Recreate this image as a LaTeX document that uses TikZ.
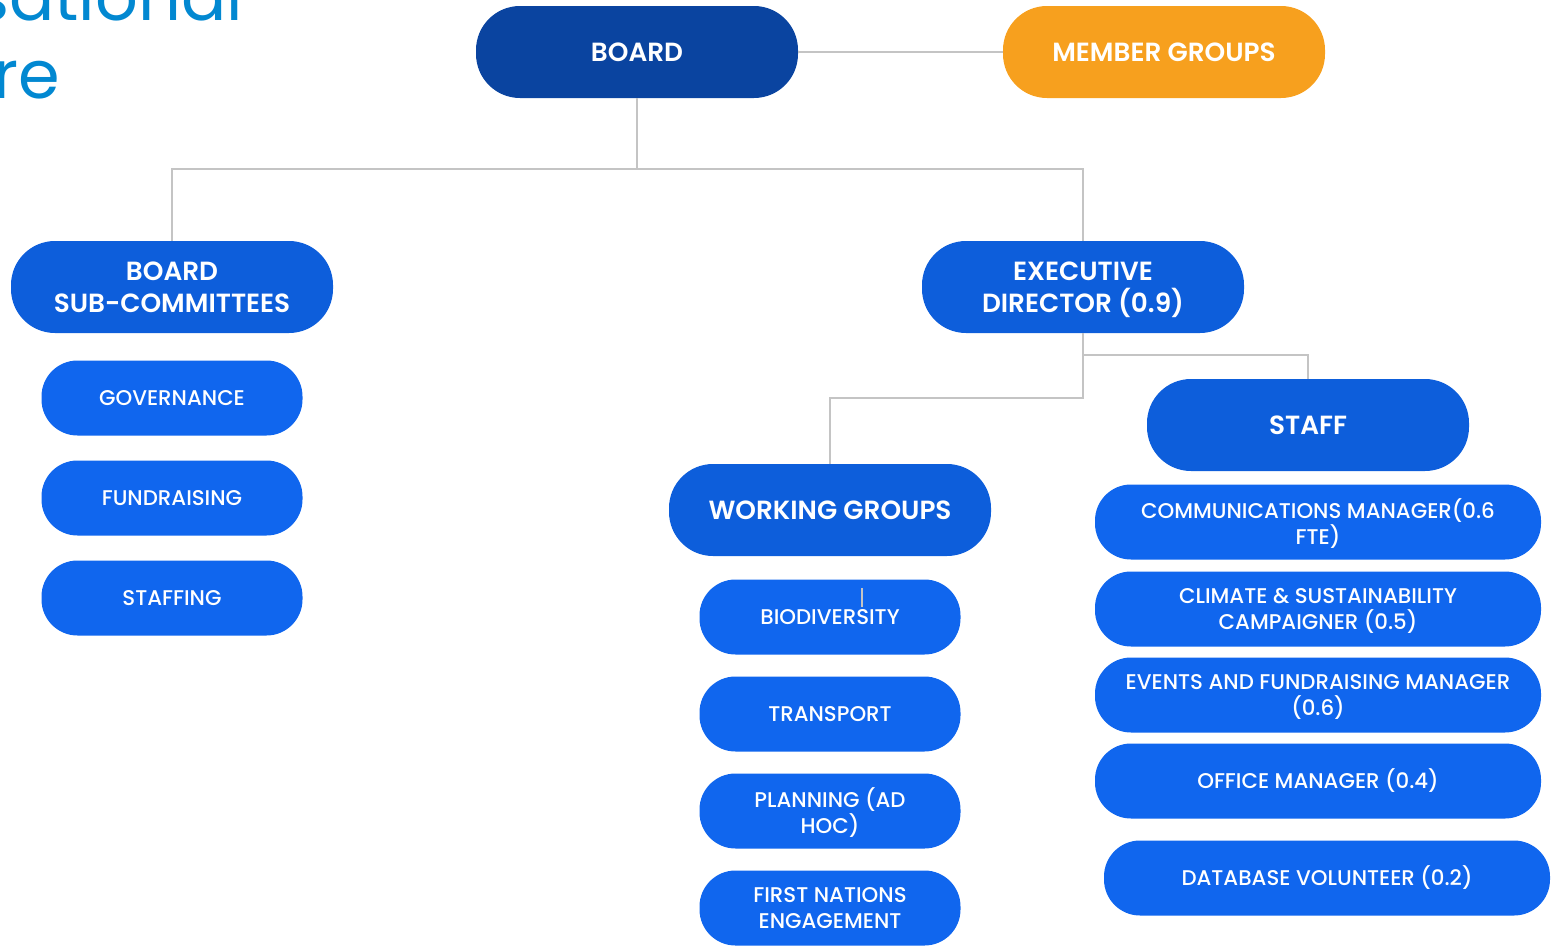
\documentclass[tikz,border=0pt]{standalone}
\usepackage{fontspec}
\setmainfont{Poppins}
\newfontfamily\semib{Poppins SemiBold}
\newfontfamily\medf{Poppins Medium}
\definecolor{darkblue}{RGB}{10,68,160}
\definecolor{midblue}{RGB}{13,94,219}
\definecolor{brightblue}{RGB}{16,102,238}
\definecolor{orangec}{RGB}{247,160,30}
\definecolor{titleblue}{RGB}{2,136,209}
\definecolor{linegray}{RGB}{196,196,196}
\begin{document}
\begin{tikzpicture}[x=1pt,y=-1pt,
  big/.style={rectangle, rounded corners=44pt, minimum width=322pt, minimum height=92pt, inner sep=0pt, align=center, text=white, font=\fontsize{26.3}{32}\semib},
  small/.style={rectangle, rounded corners=36pt, minimum width=261pt, minimum height=75pt, inner sep=0pt, align=center, text=white, fill=brightblue, font=\fontsize{21.3}{26}\medf},
  wide/.style={small, minimum width=446pt},
  conn/.style={draw=linegray, line width=2pt},
  titletext/.style={anchor=base east, inner sep=0pt, text=titleblue, font=\fontsize{67}{78}\selectfont}]
\useasboundingbox (0,0) rectangle (1555,945);
% title
\node[titletext] (t1) at (243,20) {Organisational};
\node[titletext] (t2) at (60,98) {Structure};
% main nodes
\node[big, fill=darkblue] (board) at (637,52) {BOARD};
\node[big, fill=orangec] (member) at (1164,52) {MEMBER GROUPS};
\node[big, fill=midblue] (sub) at (172,287) {BOARD\\SUB-COMMITTEES};
\node[big, fill=midblue] (ed) at (1083,287) {EXECUTIVE\\DIRECTOR \smash{(0.9)}};
\node[big, fill=midblue] (staff) at (1308,425) {STAFF};
\node[big, fill=midblue] (wg) at (830,510) {WORKING GROUPS};
% sub-committees
\node[small] (gov) at (172,398) {GOVERNANCE};
\node[small] (fund) at (172,498) {FUNDRAISING};
\node[small] (stf) at (172,598) {STAFFING};
% working groups
\node[small] (bio) at (830,617) {BIODIVERSITY};
\node[small] (trans) at (830,714) {TRANSPORT};
\node[small] (plan) at (830,811) {PLANNING (AD\\HOC\smash{)}};
\node[small] (fn) at (830,908) {FIRST NATIONS\\ENGAGEMENT};
% staff
\node[wide] (comm) at (1318,522) {COMMUNICATIONS MANAGER(0.6\\FTE\smash{)}};
\node[wide] (clim) at (1318,609) {CLIMATE \& SUSTAINABILITY\\CAMPAIGNER \smash{(0.5)}};
\node[wide] (events) at (1318,695) {EVENTS AND FUNDRAISING MANAGER\\\smash{(0.6)}};
\node[wide] (office) at (1318,781) {OFFICE MANAGER \smash{(0.4)}};
\node[wide] (db) at (1327,878) {DATABASE VOLUNTEER \smash{(0.2)}};
% connectors
\coordinate (j1) at (637,169);
\coordinate (j2) at (1083,398);
\coordinate (j3) at (1083,355);
\draw[conn] (board.east) -- (member.west);
\draw[conn] (board.south) -- (j1) -| (sub.north);
\draw[conn] (j1) -| (ed.north);
\draw[conn] (ed.south) -- (j2) -| (wg.north);
\draw[conn] (j3) -| (staff.north);
\draw[draw=linegray, line width=1.2pt] ([shift={(32,9)}]bio.north) -- ++(0,19);
\end{tikzpicture}
\end{document}
